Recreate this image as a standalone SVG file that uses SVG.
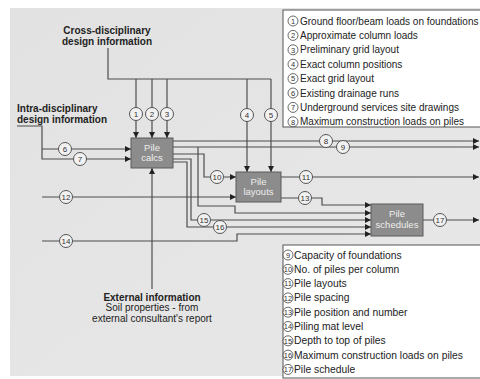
<svg xmlns="http://www.w3.org/2000/svg" width="480" height="379" viewBox="0 0 480 379">
<defs>
<linearGradient id="bg" x1="0" y1="0" x2="1" y2="1">
<stop offset="0" stop-color="#e2e2e2"/>
<stop offset="1" stop-color="#e8e8e8"/>
</linearGradient>
<marker id="ah" markerUnits="userSpaceOnUse" markerWidth="6" markerHeight="6" refX="6" refY="3" orient="auto">
<path d="M0,0 L6,3 L0,6 z" fill="#222"/>
</marker>
</defs>
<style>
.ln{fill:none;stroke:#4d4d4d;stroke-width:1.2}
.ar{marker-end:url(#ah)}
.node{fill:#8c8c8c;stroke:#5a5a5a;stroke-width:1}
.nt{font-family:"Liberation Sans",Arial,sans-serif;font-size:9.5px;fill:#eeeeee;text-anchor:middle}
.fc{fill:#f2f2f2;stroke:#555;stroke-width:1}
.fn{font-family:"Liberation Sans",Arial,sans-serif;font-size:8px;fill:#333;text-anchor:middle}
.lc{fill:#fff;stroke:#444;stroke-width:0.8}
.ln2{font-family:"Liberation Sans",Arial,sans-serif;font-size:7.5px;fill:#333;text-anchor:middle}
.lt{font-family:"Liberation Sans",Arial,sans-serif;font-size:10px;fill:#222}
.lt2{font-family:"Liberation Sans",Arial,sans-serif;font-size:10.3px;fill:#222}
.hb{font-family:"Liberation Sans",Arial,sans-serif;font-size:10px;font-weight:bold;fill:#222}
.ht{font-family:"Liberation Sans",Arial,sans-serif;font-size:10px;fill:#222}
.box{fill:#fff;stroke:#555;stroke-width:1}
</style>
<rect x="0" y="0" width="480" height="379" fill="#fff"/>
<rect x="10" y="8" width="472" height="368" fill="url(#bg)"/>

<g id="legend1">
<rect class="box" x="283" y="10" width="200" height="117"/>
<g>
<circle class="lc" cx="293" cy="21" r="5"/><text class="ln2" x="293" y="23.7">1</text><text class="lt" x="300" y="24.5">Ground floor/beam loads on foundations</text>
<circle class="lc" cx="293" cy="35.4" r="5"/><text class="ln2" x="293" y="38.1">2</text><text class="lt" x="300" y="38.9">Approximate column loads</text>
<circle class="lc" cx="293" cy="49.8" r="5"/><text class="ln2" x="293" y="52.5">3</text><text class="lt" x="300" y="53.3">Preliminary grid layout</text>
<circle class="lc" cx="293" cy="64.2" r="5"/><text class="ln2" x="293" y="66.9">4</text><text class="lt" x="300" y="67.7">Exact column positions</text>
<circle class="lc" cx="293" cy="78.6" r="5"/><text class="ln2" x="293" y="81.3">5</text><text class="lt" x="300" y="82.1">Exact grid layout</text>
<circle class="lc" cx="293" cy="93" r="5"/><text class="ln2" x="293" y="95.7">6</text><text class="lt" x="300" y="96.5">Existing drainage runs</text>
<circle class="lc" cx="293" cy="107.4" r="5"/><text class="ln2" x="293" y="110.1">7</text><text class="lt" x="300" y="110.9">Underground services site drawings</text>
<circle class="lc" cx="293" cy="121.8" r="5"/><text class="ln2" x="293" y="124.5">8</text><text class="lt" x="300" y="125.3">Maximum construction loads on piles</text>
</g>
</g>

<g id="legend2">
<rect class="box" x="283" y="245" width="200" height="133"/>
<circle class="lc" cx="288" cy="255" r="5"/><text class="ln2" x="288" y="257.7">9</text><text class="lt2" x="294" y="258.5">Capacity of foundations</text>
<circle class="lc" cx="288" cy="269.3" r="5"/><text class="ln2" x="288" y="272">10</text><text class="lt2" x="294" y="272.8">No. of piles per column</text>
<circle class="lc" cx="288" cy="283.6" r="5"/><text class="ln2" x="288" y="286.3">11</text><text class="lt2" x="294" y="287.1">Pile layouts</text>
<circle class="lc" cx="288" cy="297.9" r="5"/><text class="ln2" x="288" y="300.6">12</text><text class="lt2" x="294" y="301.4">Pile spacing</text>
<circle class="lc" cx="288" cy="312.2" r="5"/><text class="ln2" x="288" y="314.9">13</text><text class="lt2" x="294" y="315.7">Pile position and number</text>
<circle class="lc" cx="288" cy="326.5" r="5"/><text class="ln2" x="288" y="329.2">14</text><text class="lt2" x="294" y="330">Piling mat level</text>
<circle class="lc" cx="288" cy="340.8" r="5"/><text class="ln2" x="288" y="343.5">15</text><text class="lt2" x="294" y="344.3">Depth to top of piles</text>
<circle class="lc" cx="288" cy="355.1" r="5"/><text class="ln2" x="288" y="357.8">16</text><text class="lt2" x="294" y="358.6">Maximum construction loads on piles</text>
<circle class="lc" cx="288" cy="369.4" r="5"/><text class="ln2" x="288" y="372.1">17</text><text class="lt2" x="294" y="372.9">Pile schedule</text>
</g>

<g id="sources">
<text class="hb" x="107" y="33.5" text-anchor="middle">Cross-disciplinary</text>
<text class="hb" x="107" y="45" text-anchor="middle">design information</text>
<text class="hb" x="17" y="111.5">Intra-disciplinary</text>
<text class="hb" x="17" y="123">design information</text>
<text class="hb" x="152" y="300.5" text-anchor="middle">External information</text>
<text class="ht" x="152" y="310.5" text-anchor="middle">Soil properties - from</text>
<text class="ht" x="152" y="321.5" text-anchor="middle">external consultant's report</text>
</g>

<g id="connectors">
<path class="ln" d="M108,48 V79 H271"/>
<path class="ln ar" d="M136,79 V138"/>
<path class="ln ar" d="M152,79 V138"/>
<path class="ln ar" d="M167,79 V138"/>
<path class="ln ar" d="M247,79 V172"/>
<path class="ln ar" d="M271,79 V172"/>
<path class="ln ar" d="M17,126 H42 V159 H131"/>
<path class="ln ar" d="M42,149 H131"/>
<path class="ln ar" d="M152,289 V168"/>
<path class="ln ar" d="M173,141 H479"/>
<path class="ln ar" d="M173,147 H479"/>
<path class="ln ar" d="M198,147 V206 H235 V213 H371"/>
<path class="ln ar" d="M173,154 H204 V177 H236"/>
<path class="ln ar" d="M173,159 H191 V220 H371"/>
<path class="ln ar" d="M173,162 H187 V227 H371"/>
<path class="ln ar" d="M42,197 H236"/>
<path class="ln ar" d="M42,241 H237 V234 H371"/>
<path class="ln ar" d="M281,177 H479"/>
<path class="ln ar" d="M281,198 H322 V205 H371"/>
<path class="ln ar" d="M423,220 H479"/>
<g>
<circle class="fc" cx="136" cy="114" r="6.5"/><text class="fn" x="136" y="117">1</text>
<circle class="fc" cx="152" cy="114" r="6.5"/><text class="fn" x="152" y="117">2</text>
<circle class="fc" cx="167" cy="114" r="6.5"/><text class="fn" x="167" y="117">3</text>
<circle class="fc" cx="247" cy="115" r="6.5"/><text class="fn" x="247" y="118">4</text>
<circle class="fc" cx="271" cy="115" r="6.5"/><text class="fn" x="271" y="118">5</text>
<circle class="fc" cx="65" cy="149" r="6.5"/><text class="fn" x="65" y="152">6</text>
<circle class="fc" cx="80" cy="159" r="6.5"/><text class="fn" x="80" y="162">7</text>
<circle class="fc" cx="326" cy="141" r="6.5"/><text class="fn" x="326" y="144">8</text>
<circle class="fc" cx="343" cy="147" r="6.5"/><text class="fn" x="343" y="150">9</text>
<circle class="fc" cx="217" cy="177" r="6.5"/><text class="fn" x="217" y="180">10</text>
<circle class="fc" cx="306" cy="177" r="6.5"/><text class="fn" x="306" y="180">11</text>
<circle class="fc" cx="66" cy="197" r="6.5"/><text class="fn" x="66" y="200">12</text>
<circle class="fc" cx="305" cy="198" r="6.5"/><text class="fn" x="305" y="201">13</text>
<circle class="fc" cx="66" cy="241" r="6.5"/><text class="fn" x="66" y="244">14</text>
<circle class="fc" cx="204" cy="220" r="6.5"/><text class="fn" x="204" y="223">15</text>
<circle class="fc" cx="220" cy="227" r="6.5"/><text class="fn" x="220" y="230">16</text>
<circle class="fc" cx="440" cy="220" r="6.5"/><text class="fn" x="440" y="223">17</text>
</g>
</g>

<g id="pile-calcs">
<rect class="node" x="131" y="138" width="42" height="30"/>
<text class="nt" x="152" y="150.5">Pile</text>
<text class="nt" x="152" y="161">calcs</text>
</g>
<g id="pile-layouts">
<rect class="node" x="236" y="172" width="45" height="30"/>
<text class="nt" x="258.5" y="184.5">Pile</text>
<text class="nt" x="258.5" y="195">layouts</text>
</g>
<g id="pile-schedules">
<rect class="node" x="371" y="204" width="52" height="32"/>
<text class="nt" x="397" y="217">Pile</text>
<text class="nt" x="397" y="227.5">schedules</text>
</g>
</svg>
